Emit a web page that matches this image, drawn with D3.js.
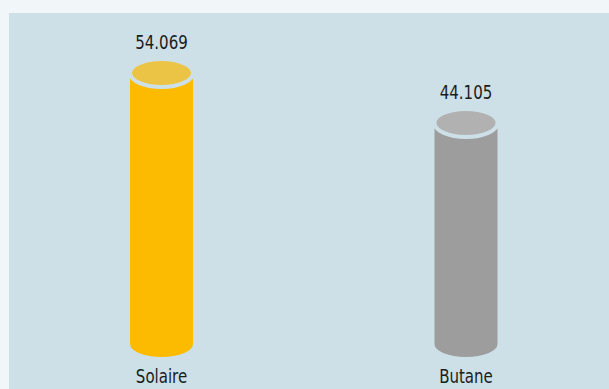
<!DOCTYPE html>
<html>
<head>
<meta charset="utf-8">
<script src="https://cdn.jsdelivr.net/npm/d3@7"></script>
<style>
  html, body { margin: 0; padding: 0; background: #f1f6f9; }
  svg { display: block; }
</style>
</head>
<body>
<script>
// Energy sources and their values
const categories = ["Solaire", "Butane"];
const values = [54.069, 44.105];
const bodyColors = ["#fdbb00", "#9d9d9d"];
const capColors = ["#ecc445", "#b1b1b1"];
const valueLabels = ["54.069", "44.105"];

const W = 609, H = 389;
const panelColor = "#cde0e7";
const font = "'DejaVu Sans Condensed', 'DejaVu Sans', sans-serif";

const svg = d3.select("body").append("svg")
  .attr("width", W).attr("height", H);

// light panel behind the bars
svg.append("rect")
  .attr("x", 9).attr("y", 13)
  .attr("width", W - 9).attr("height", H - 13)
  .attr("fill", panelColor);

const x = d3.scalePoint().domain(categories).range([161.5, 466]);
const y = d3.scaleLinear().domain([0, d3.max(values)]).range([344, 73]);

const barW = 63, ry = 14, ring = 4;
const data = categories.map((c, i) => ({ c, v: values[i], body: bodyColors[i], cap: capColors[i], label: valueLabels[i] }));

const g = svg.append("g").selectAll("g").data(data).join("g");

// cylinder body: rectangle plus rounded bottom
g.append("path")
  .attr("fill", d => d.body)
  .attr("d", d => {
    const cx = x(d.c), l = cx - barW / 2, r = cx + barW / 2;
    const top = y(d.v), bot = y(0);
    return `M${l},${top} L${r},${top} L${r},${bot} A${barW / 2},${ry - 1} 0 0 1 ${l},${bot} Z`;
  });

// lighter top cap separated by a thin ring
g.append("ellipse")
  .attr("cx", d => x(d.c))
  .attr("cy", d => y(d.v))
  .attr("rx", barW / 2)
  .attr("ry", ry)
  .attr("fill", d => d.cap)
  .attr("stroke", panelColor)
  .attr("stroke-width", ring);

// narrow-set text helper
function label(sel, yPos) {
  sel.append("text")
    .attr("transform", d => `translate(${x(d.c)},${yPos(d)}) scale(0.88,1)`)
    .attr("text-anchor", "middle")
    .attr("font-family", font)
    .attr("font-size", 19)
    .attr("fill", "#1c1c1c");
}

// value labels
label(g, d => y(d.v) - 24);
g.select("text").text(d => d.label);

// category labels
g.append("text")
  .attr("transform", d => `translate(${x(d.c)},383) scale(0.88,1)`)
  .attr("text-anchor", "middle")
  .attr("font-family", font)
  .attr("font-size", 19)
  .attr("fill", "#1c1c1c")
  .text(d => d.c);
</script>
</body>
</html>
